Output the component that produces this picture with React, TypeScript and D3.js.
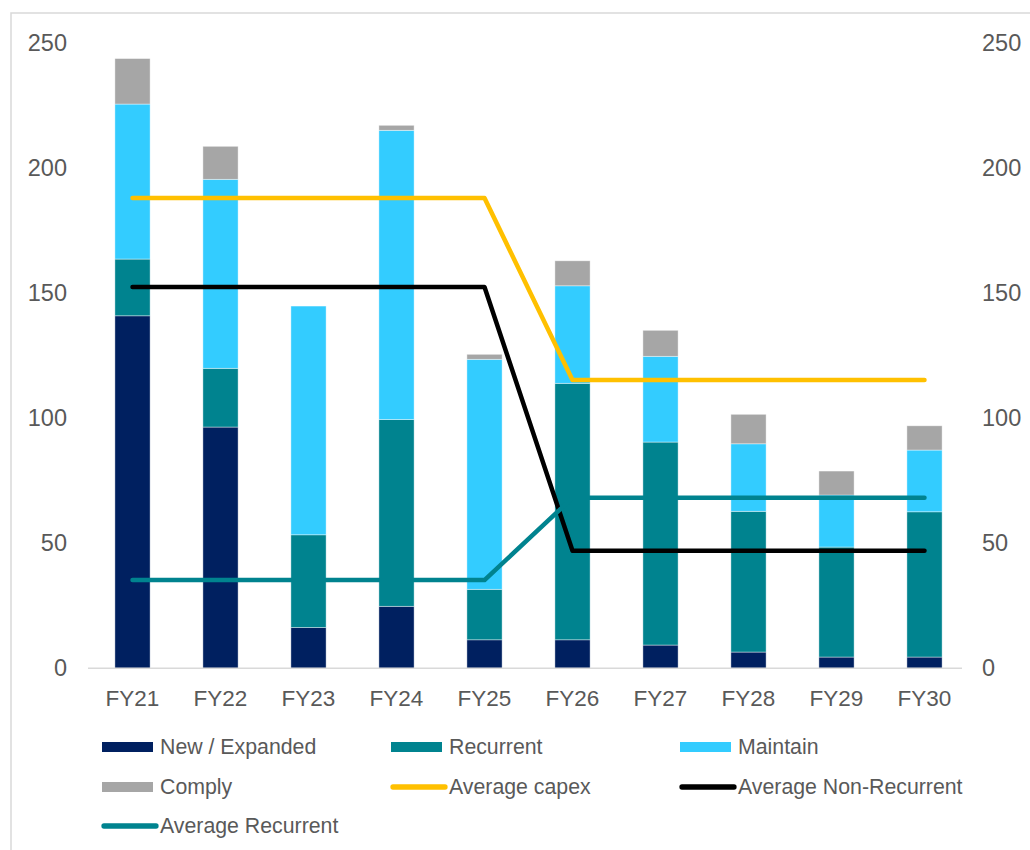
import React from "react";
import * as d3 from "d3";

const categories = ["FY21", "FY22", "FY23", "FY24", "FY25", "FY26", "FY27", "FY28", "FY29", "FY30"];
const newExpanded = [141, 96.5, 16.3, 24.8, 11.4, 11.4, 9.3, 6.5, 4.5, 4.5];
const recurrent = [22.7, 23.5, 37.1, 74.7, 20.2, 102.6, 81.2, 56.3, 44, 58.1];
const maintain = [62, 75.6, 91.5, 115.7, 92, 39, 34.3, 27, 20.8, 24.7];
const comply = [18.2, 13.2, 0, 2, 2, 10, 10.4, 11.8, 9.6, 9.7];
const avgCapex = [188.1, 188.1, 188.1, 188.1, 188.1, 115.3, 115.3, 115.3, 115.3, 115.3];
const avgNonRecurrent = [152.5, 152.5, 152.5, 152.5, 152.5, 47, 47, 47, 47, 47];
const avgRecurrent = [35.3, 35.3, 35.3, 35.3, 35.3, 68.2, 68.2, 68.2, 68.2, 68.2];
const yTicks = [0, 50, 100, 150, 200, 250];

const barSeries = [
  { name: "New / Expanded", values: newExpanded, color: "#002060" },
  { name: "Recurrent", values: recurrent, color: "#00838F" },
  { name: "Maintain", values: maintain, color: "#33CCFF" },
  { name: "Comply", values: comply, color: "#A6A6A6" },
];
const lineSeries = [
  { name: "Average capex", values: avgCapex, color: "#FFC000" },
  { name: "Average Non-Recurrent", values: avgNonRecurrent, color: "#000000" },
  { name: "Average Recurrent", values: avgRecurrent, color: "#00838F" },
];

export default function App() {
  const W = 1030, H = 850;
  const axisX0 = 88, axisX1 = 962;
  const x = d3.scaleBand<string>().domain(categories).range([88.5, 968.5]).paddingInner(0.6).paddingOuter(0.3);
  const y = d3.scaleLinear().domain([0, 250]).range([668.3, 43.3]);
  const font = "'Liberation Sans', Arial, sans-serif";
  const textColor = "#595959";

  const stacked = d3.stack<number>()
    .keys(barSeries.map((_, i) => String(i)))
    .value((i, k) => barSeries[+k].values[i])(categories.map((_, i) => i));

  const line = d3.line<number>()
    .x((_, i) => (x(categories[i]) as number) + x.bandwidth() / 2)
    .y((v) => y(v));

  const legendItems = [
    ...barSeries.map((s) => ({ name: s.name, color: s.color, type: "bar" })),
    ...lineSeries.map((s) => ({ name: s.name, color: s.color, type: "line" })),
  ];
  const colX = [102, 391, 680];
  const rowY = [747, 787, 826];

  return (
    <svg width={W} height={H} style={{ position: "absolute", left: 0, top: 0, background: "#fff" }}>
      <rect x={11} y={13} width={W + 10} height={H + 10} fill="#fff" stroke="#D9D9D9" strokeWidth={1.5} />
      {stacked.map((layer, li) => (
        <g key={li}>
          {layer.map((d, i) => (
            d[1] - d[0] > 0 ? (
              <rect key={i}
                x={x(categories[i])}
                y={y(d[1])}
                width={x.bandwidth()}
                height={y(d[0]) - y(d[1])}
                fill={barSeries[li].color}
                stroke="#ffffff" strokeOpacity={0.55} strokeWidth={0.75} />
            ) : null
          ))}
        </g>
      ))}
      <line x1={axisX0} x2={axisX1} y1={y(0)} y2={y(0)} stroke="#D9D9D9" strokeWidth={1.5} />
      {lineSeries.map((s) => (
        <path key={s.name} d={line(s.values) || ""} fill="none" stroke={s.color}
          strokeWidth={4.5} strokeLinecap="round" strokeLinejoin="round" />
      ))}
      {yTicks.map((t) => (
        <g key={t} fontFamily={font} fontSize={23.5} fill={textColor}>
          <text x={67} y={y(t)} textAnchor="end" dominantBaseline="central">{t}</text>
          <text x={982} y={y(t)} textAnchor="start" dominantBaseline="central">{t}</text>
        </g>
      ))}
      {categories.map((c) => (
        <text key={c} x={(x(c) as number) + x.bandwidth() / 2} y={698} textAnchor="middle"
          dominantBaseline="central" fontFamily={font} fontSize={22.5} fill={textColor}>{c}</text>
      ))}
      {legendItems.map((it, i) => {
        const cx = colX[i % 3];
        const cy = rowY[Math.floor(i / 3)];
        return (
          <g key={it.name}>
            {it.type === "bar" ? (
              <rect x={cx} y={cy - 5} width={51} height={10} fill={it.color} />
            ) : (
              <line x1={cx + 2} x2={cx + 54} y1={cy} y2={cy} stroke={it.color} strokeWidth={5.3} strokeLinecap="round" />
            )}
            <text x={cx + 58} y={cy} dominantBaseline="central" fontFamily={font} fontSize={21.3} fill={textColor}>{it.name}</text>
          </g>
        );
      })}
    </svg>
  );
}
